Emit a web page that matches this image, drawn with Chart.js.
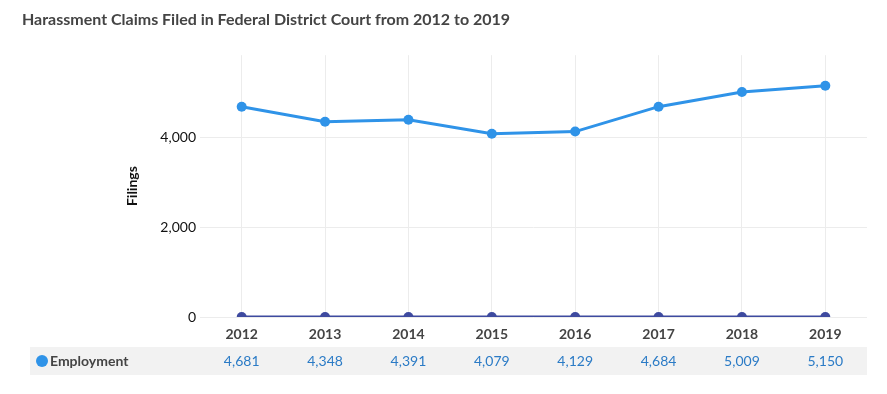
<!DOCTYPE html>
<html>
<head>
<meta charset="utf-8">
<script src="https://cdn.jsdelivr.net/npm/chart.js@4/dist/chart.umd.min.js"></script>
<style>
  html, body { margin: 0; padding: 0; background: #fff; }
  #wrap { width: 887px; height: 394px; }
</style>
</head>
<body>
<div id="wrap"><canvas id="grafico"></canvas></div>
<script>
const years = ['2012', '2013', '2014', '2015', '2016', '2017', '2018', '2019'];
const employment = [4681, 4348, 4391, 4079, 4129, 4684, 5009, 5150];
const other = [0, 0, 0, 0, 0, 0, 0, 0];
const yTicks = [0, 2000, 4000];

const azul = '#2f93e8';
const morado = '#3e4a9f';

// fila de la tabla bajo el eje x
const filaTabla = {
    id: 'filaTabla',
    afterDraw(chart) {
        const ctx = chart.ctx;
        const x = chart.scales.x;
        const top = 347, alto = 28, mid = top + alto / 2;
        ctx.save();
        ctx.fillStyle = '#f2f2f2';
        ctx.fillRect(30, top, chart.chartArea.right - 30, alto);
        ctx.fillStyle = azul;
        ctx.beginPath();
        ctx.arc(42, mid, 6, 0, Math.PI * 2);
        ctx.fill();
        ctx.fillStyle = '#444';
        ctx.font = 'bold 14px Lato';
        ctx.textBaseline = 'middle';
        ctx.textAlign = 'left';
        ctx.fillText(chart.data.datasets[0].label, 50, mid);
        ctx.fillStyle = '#2b7bc6';
        ctx.font = '14px Lato';
        ctx.textAlign = 'center';
        chart.data.datasets[0].data.forEach((v, i) => {
            ctx.fillText(v.toLocaleString('en-US'), x.getPixelForValue(i), mid);
        });
        ctx.restore();
    }
};

new Chart(document.getElementById('grafico'), {
    type: 'line',
    data: {
        labels: years,
        datasets: [
            {
                label: 'Employment',
                data: employment,
                borderColor: azul,
                backgroundColor: azul,
                borderWidth: 3,
                pointRadius: 5,
                pointBorderWidth: 0,
                pointHoverRadius: 5
            },
            {
                label: 'Other',
                data: other,
                borderColor: morado,
                backgroundColor: morado,
                borderWidth: 3,
                pointRadius: 5,
                pointBorderWidth: 0,
                pointHoverRadius: 5
            }
        ]
    },
    options: {
        responsive: true,
        maintainAspectRatio: false,
        animation: false,
        layout: { padding: { left: 22, right: 20, top: 0, bottom: 0 } },
        plugins: {
            legend: { display: false },
            tooltip: { enabled: false },
            title: {
                display: true,
                text: 'Harassment Claims Filed in Federal District Court from 2012 to 2019',
                align: 'start',
                color: '#444',
                font: { family: 'Lato', size: 16, weight: 'bold' },
                padding: { top: 10, bottom: 26 },
                fullSize: true
            }
        },
        scales: {
            x: {
                offset: true,
                grid: { offset: false, color: '#ececec', drawTicks: false },
                border: { display: false },
                ticks: {
                    color: '#444',
                    padding: 9,
                    font: { family: 'Lato', size: 14, weight: 'bold' }
                },
                afterFit(scale) { scale.height = 77; }
            },
            y: {
                min: 0,
                max: 5830,
                grid: { color: '#ececec', drawTicks: false },
                border: { display: false },
                afterBuildTicks(scale) {
                    scale.ticks = yTicks.map(v => ({ value: v }));
                },
                ticks: {
                    color: '#111',
                    padding: 4,
                    font: { family: 'Lato', size: 14 },
                    callback: v => v.toLocaleString('en-US')
                },
                title: {
                    display: true,
                    text: 'Filings',
                    color: '#111',
                    padding: { top: 102, bottom: 0 },
                    font: { family: 'Lato', size: 14, weight: 'bold' }
                },
                afterFit(scale) { scale.width = 178; }
            }
        }
    },
    plugins: [filaTabla]
});
</script>
</body>
</html>
